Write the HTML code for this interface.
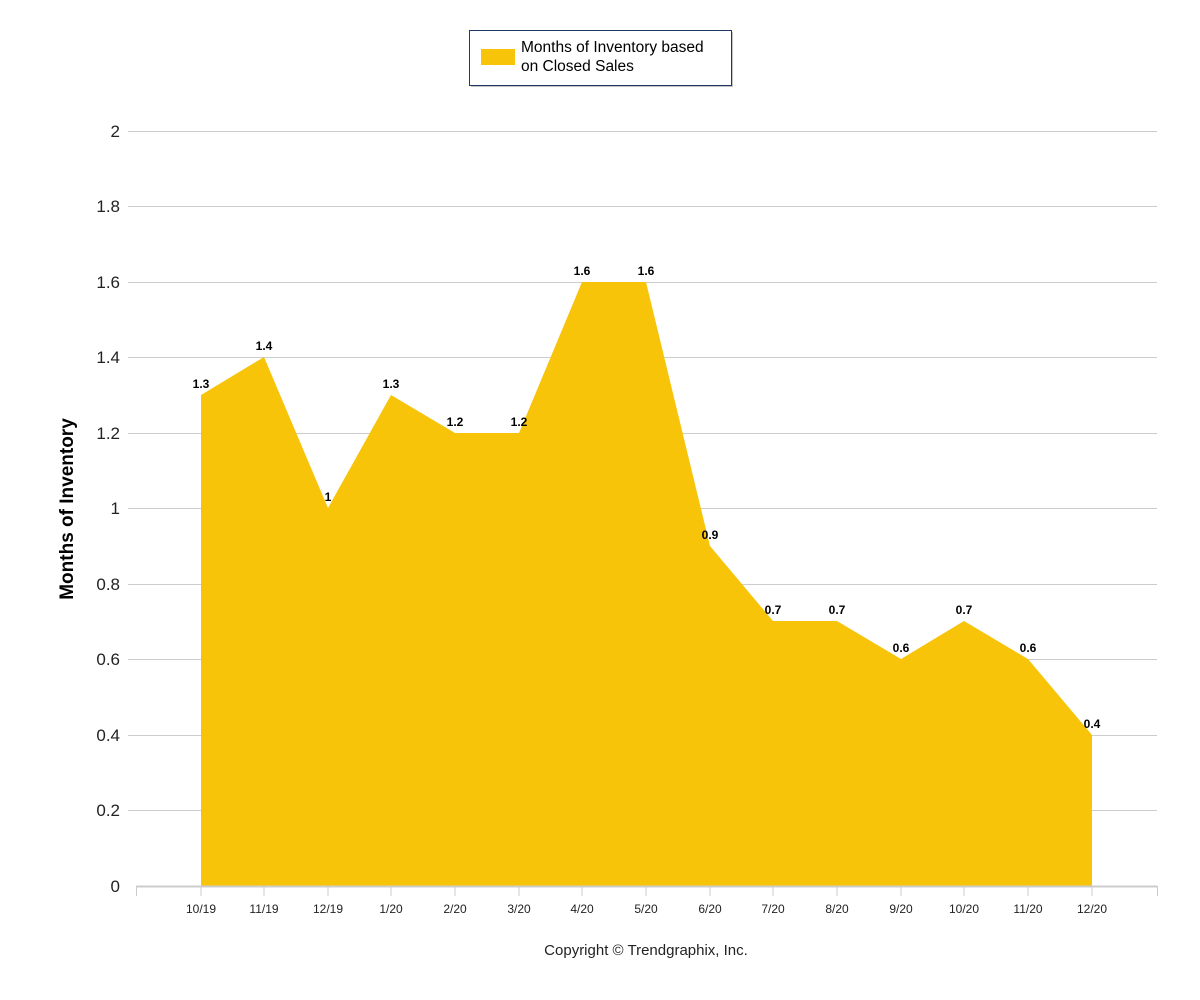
<!DOCTYPE html>
<html><head><style>body{margin:0;background:#fff}svg{display:block}</style></head>
<body>
<svg width="1200" height="1000" xmlns="http://www.w3.org/2000/svg" font-family="Liberation Sans, sans-serif">
<rect x="471" y="32" width="262" height="55" fill="#888" opacity="0.5"/>
<rect x="469.5" y="30.5" width="262" height="55" fill="#fff" stroke="#1f3864" stroke-width="1"/>
<rect x="481" y="49" width="34" height="16" fill="#f7c40a"/>
<text x="521" y="52" font-size="15.5" fill="#000">Months of Inventory based</text>
<text x="521" y="71" font-size="15.5" fill="#000">on Closed Sales</text>
<g stroke="#ccc" stroke-width="1">
<line x1="128" x2="1157" y1="131.5" y2="131.5"/><line x1="128" x2="1157" y1="206.5" y2="206.5"/>
<line x1="128" x2="1157" y1="282.5" y2="282.5"/><line x1="128" x2="1157" y1="357.5" y2="357.5"/>
<line x1="128" x2="1157" y1="433.5" y2="433.5"/><line x1="128" x2="1157" y1="508.5" y2="508.5"/>
<line x1="128" x2="1157" y1="584.5" y2="584.5"/><line x1="128" x2="1157" y1="659.5" y2="659.5"/>
<line x1="128" x2="1157" y1="735.5" y2="735.5"/><line x1="128" x2="1157" y1="810.5" y2="810.5"/>
</g>
<polygon fill="#f7c40a" points="201,886 201,395 264,357 328,508 391,395 455,433 519,433 582,282 646,282 710,546 773,621 837,621 901,659 964,621 1028,659 1092,735 1092,886"/>
<line x1="136" x2="1157" y1="886.5" y2="886.5" stroke="#ccc" stroke-width="2"/>
<g stroke="#ccc">
<line x1="136.5" x2="136.5" y1="886" y2="896"/><line x1="1157.5" x2="1157.5" y1="886" y2="896"/>
<line x1="201" x2="201" y1="886" y2="896"/><line x1="264" x2="264" y1="886" y2="896"/><line x1="328" x2="328" y1="886" y2="896"/><line x1="391" x2="391" y1="886" y2="896"/><line x1="455" x2="455" y1="886" y2="896"/><line x1="519" x2="519" y1="886" y2="896"/><line x1="582" x2="582" y1="886" y2="896"/><line x1="646" x2="646" y1="886" y2="896"/><line x1="710" x2="710" y1="886" y2="896"/><line x1="773" x2="773" y1="886" y2="896"/><line x1="837" x2="837" y1="886" y2="896"/><line x1="901" x2="901" y1="886" y2="896"/><line x1="964" x2="964" y1="886" y2="896"/><line x1="1028" x2="1028" y1="886" y2="896"/><line x1="1092" x2="1092" y1="886" y2="896"/>
</g>
<g font-size="17" fill="#222" text-anchor="end">
<text x="120" y="137">2</text><text x="120" y="212">1.8</text><text x="120" y="288">1.6</text><text x="120" y="363">1.4</text><text x="120" y="439">1.2</text><text x="120" y="514">1</text><text x="120" y="590">0.8</text><text x="120" y="665">0.6</text><text x="120" y="741">0.4</text><text x="120" y="816">0.2</text><text x="120" y="892">0</text>
</g>
<g font-size="12" fill="#222" text-anchor="middle">
<text x="201" y="913">10/19</text><text x="264" y="913">11/19</text><text x="328" y="913">12/19</text><text x="391" y="913">1/20</text><text x="455" y="913">2/20</text><text x="519" y="913">3/20</text><text x="582" y="913">4/20</text><text x="646" y="913">5/20</text><text x="710" y="913">6/20</text><text x="773" y="913">7/20</text><text x="837" y="913">8/20</text><text x="901" y="913">9/20</text><text x="964" y="913">10/20</text><text x="1028" y="913">11/20</text><text x="1092" y="913">12/20</text>
</g>
<g font-size="12" font-weight="bold" fill="#000" text-anchor="middle">
<text x="201" y="388">1.3</text><text x="264" y="350">1.4</text><text x="328" y="501">1</text><text x="391" y="388">1.3</text><text x="455" y="426">1.2</text><text x="519" y="426">1.2</text><text x="582" y="275">1.6</text><text x="646" y="275">1.6</text><text x="710" y="539">0.9</text><text x="773" y="614">0.7</text><text x="837" y="614">0.7</text><text x="901" y="652">0.6</text><text x="964" y="614">0.7</text><text x="1028" y="652">0.6</text><text x="1092" y="728">0.4</text>
</g>
<text transform="translate(73,509) rotate(-90)" font-size="19" font-weight="bold" text-anchor="middle" fill="#000">Months of Inventory</text>
<text x="646" y="955" font-size="15" text-anchor="middle" fill="#222">Copyright © Trendgraphix, Inc.</text>
</svg>
</body></html>
